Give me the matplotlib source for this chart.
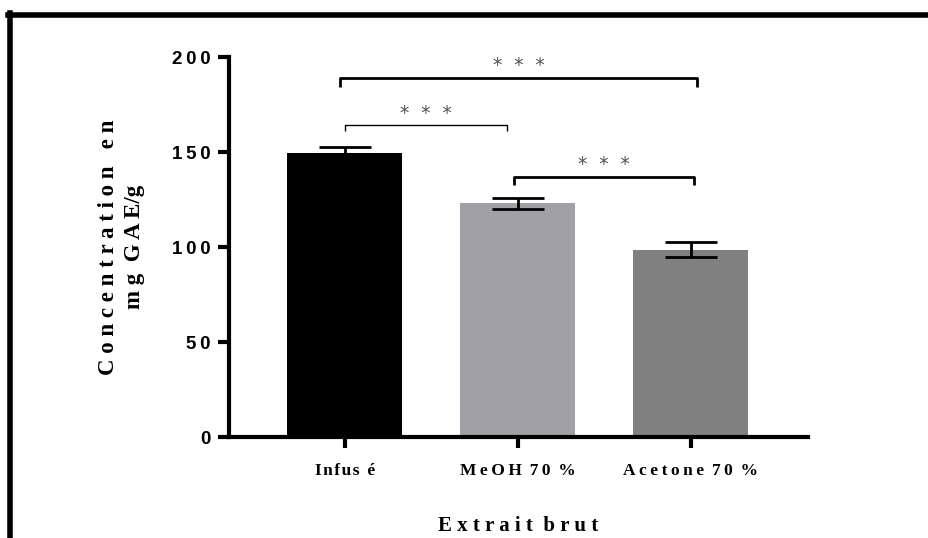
import numpy as np
import matplotlib
matplotlib.use("Agg")
import matplotlib.pyplot as plt
from matplotlib.lines import Line2D

groups = ["I\u200an\u200af\u200au\u200as\u2009 é", "M\u2009e\u2009O\u2009H\u2009 7\u20090\u2009 %",
          "A\u2009c\u2009e\u2009t\u2009o\u2009n\u2009e\u2009 7\u20090\u2009 %"]
means = [149.5, 123.0, 98.5]
errs = [3.0, 2.8, 4.0]
colors = ["#000000", "#a1a1a5", "#808080"]

# significance pairs: (left x, right x, bracket height, tick drop, line width)
brackets = [(-0.03, 2.04, 189, 5, 2.0),
            (0.0, 0.94, 164, 3, 1.0),
            (0.98, 2.02, 137, 4.5, 2.0)]
stars = ["*  *  *", "*  *  *", "*  *  *"]

fig = plt.figure(figsize=(9.29, 5.38), dpi=100)
ax = fig.add_axes([0.2465, 0.1877, 0.6233, 0.7063])

x = np.arange(len(groups))
ax.bar(x, means, width=0.667, color=colors, zorder=2)
ax.errorbar(x, means, yerr=errs, fmt="none", ecolor="black",
            elinewidth=2, capsize=19, capthick=2, zorder=3)

for (x1, x2, h, d, lw), s in zip(brackets, stars):
    ax.plot([x1, x1, x2, x2], [h - d, h, h, h - d], color="black",
            lw=lw, clip_on=False, solid_capstyle="butt")
    ax.text((x1 + x2) / 2, h + 1.5, s, ha="center", va="bottom",
            fontsize=13.5, color="#505050", family="DejaVu Sans")

ax.set_xlim(-0.67, 2.68)
ax.set_ylim(0, 200)
ax.set_yticks([0, 50, 100, 150, 200])
ax.set_yticklabels(["0", "5\u20090", "1\u20090\u20090", "1\u20095\u20090", "2\u20090\u20090"],
                   fontsize=13.5, fontweight="bold", family="Liberation Sans")
ax.set_xticks(x)
ax.set_xticklabels(groups, fontsize=12.5, fontweight="bold", family="Liberation Serif")

for sp in ["top", "right"]:
    ax.spines[sp].set_visible(False)
for sp in ["left", "bottom"]:
    ax.spines[sp].set_linewidth(3)
ax.tick_params(axis="both", width=3, length=8, direction="out")
ax.tick_params(axis="y", pad=5)
ax.tick_params(axis="x", pad=11)

ax.set_ylabel("C o n c e n t r a t i o n   e n\nm g  G A E/g", fontsize=16.5,
              fontweight="bold", family="Liberation Serif", labelpad=20,
              linespacing=1.3)
ax.set_xlabel("E x t r a i t  b r u t", fontsize=15, fontweight="bold",
              family="Liberation Serif", labelpad=26)

# frame lines at top and left of the figure
fig.add_artist(Line2D([8 / 929, 1.0], [1 - 14.5 / 538] * 2, color="black",
                      lw=4, transform=fig.transFigure))
fig.add_artist(Line2D([10.5 / 929] * 2, [0, 1 - 12.5 / 538], color="black",
                      lw=4, transform=fig.transFigure))

fig.savefig("out.png", dpi=100)
